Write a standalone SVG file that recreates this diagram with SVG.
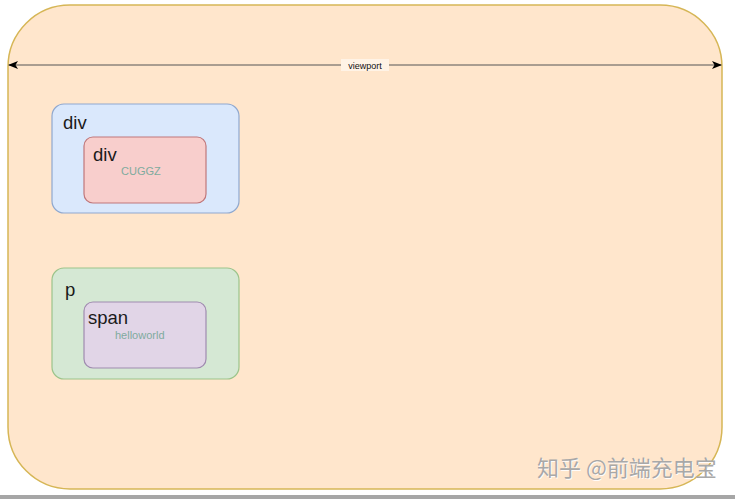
<svg xmlns="http://www.w3.org/2000/svg" width="735" height="499" viewBox="0 0 735 499">
<style>
text{font-family:"Helvetica","Liberation Sans",Arial,sans-serif}
.lbl{font-size:18.5px;fill:#1a1a1a}
.sub{font-size:11px;fill:#7fab9e}
.wm{font-size:22px;font-family:"Noto Sans CJK SC",sans-serif}
</style>
<defs>
<marker id="ah" viewBox="0 0 10 10" refX="9" refY="5" markerWidth="10" markerHeight="10" markerUnits="userSpaceOnUse" orient="auto-start-reverse">
<path d="M0,1 L10,5 L0,9 L2.5,5 Z" fill="#000"/>
</marker>
</defs>
<rect width="735" height="499" fill="#ffffff"/>
<rect x="0" y="495" width="735" height="4" fill="#a6a6a6"/>
<g id="viewport">
<rect x="8" y="5" width="714" height="484" rx="62" ry="62" fill="#ffe6cc" stroke="#d6b656" stroke-width="1.5"/>
</g>
<g id="connectors">
<line x1="9" y1="65" x2="721" y2="65" stroke="#555" stroke-width="1" marker-start="url(#ah)" marker-end="url(#ah)"/>
<rect x="341" y="59" width="48" height="12" fill="#fff3e6"/>
<text x="365" y="68.5" font-size="9" text-anchor="middle" fill="#111">viewport</text>
</g>
<g id="div-outer">
<rect x="52" y="104" width="187" height="109" rx="12" fill="#dae8fc" stroke="#8fa8cf" stroke-width="1.2"/>
<text class="lbl" x="63" y="129">div</text>
</g>
<g id="div-inner">
<rect x="84" y="137" width="122" height="66" rx="9" fill="#f8cecc" stroke="#c0777a" stroke-width="1.2"/>
<text class="lbl" x="93" y="161">div</text>
<text class="sub" x="121" y="175">CUGGZ</text>
</g>
<g id="p">
<rect x="52" y="268" width="187" height="111" rx="12" fill="#d5e8d4" stroke="#9cc48a" stroke-width="1.2"/>
<text class="lbl" x="65" y="296">p</text>
</g>
<g id="span">
<rect x="84" y="302" width="122" height="66" rx="9" fill="#e1d5e7" stroke="#a08bb0" stroke-width="1.2"/>
<text class="lbl" x="88" y="324">span</text>
<text class="sub" x="115" y="339">helloworld</text>
</g>
<text class="wm" x="537" y="476" fill="#ffffff" opacity="0.9" transform="translate(1,1)">知乎 @前端充电宝</text>
<text class="wm" x="537" y="476" fill="#a8a8a8">知乎 @前端充电宝</text>
</svg>
